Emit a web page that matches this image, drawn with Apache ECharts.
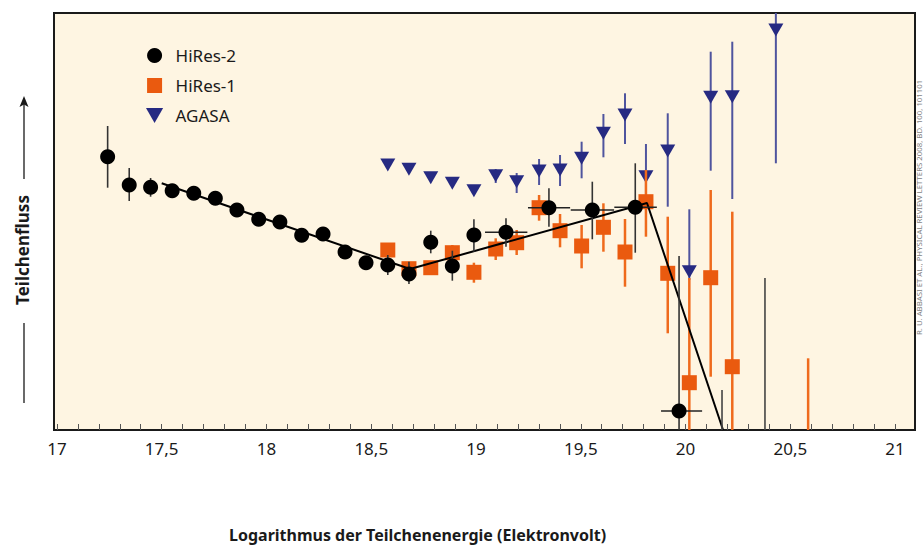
<!DOCTYPE html>
<html><head><meta charset="utf-8">
<script src="https://cdn.jsdelivr.net/npm/echarts@6/dist/echarts.min.js"></script>
<style>html,body{margin:0;padding:0;background:#fff}#c{width:923px;height:549px}</style>
</head><body><div id="c"></div>
<script>
// x: log10(E/eV); y: flux in arbitrary units (0 = bottom of plot, 417 = top)
const xTicks = [17,17.1,17.2,17.3,17.4,17.5,17.6,17.7,17.8,17.9,18,18.1,18.2,18.3,18.4,18.5,18.6,18.7,18.8,18.9,19,19.1,19.2,19.3,19.4,19.5,19.6,19.7,19.8,19.9,20,20.1,20.2,20.3,20.4,20.5,20.6,20.7,20.8,20.9,21];
const xLabels = [17,17.5,18,18.5,19,19.5,20,20.5,21];

// HiRes-2
const hires2X  = [17.242,17.345,17.447,17.550,17.653,17.756,17.859,17.963,18.064,18.168,18.270,18.375,18.475,18.579,18.680,18.784,18.887,18.990,19.143,19.348,19.555,19.760,19.969];
const hires2Y  = [273.3,245,242.7,239.3,236.7,231.7,220,210.7,208,194.7,196,178,167.3,165,156,187.7,164,195,197.7,222.3,220,222.7,19];
const hires2Lo = [242.3,229,233.3,235,233,229,217,208,205,192,193,175,164,155,146,176.7,149.3,178.3,183.3,203.3,190.7,177.3,0];
const hires2Hi = [304,262,252,243.5,240.5,234.5,223,213.5,211,197.5,199,181,170.5,175,168.3,199.3,179.3,210.7,211.7,241.7,248.3,266.7,174];
// horizontal bins (only for the high-energy points)
const hires2BinY  = [197.7,222.3,220,222.7,19];
const hires2BinLo = [19.043,19.248,19.452,19.660,19.883];
const hires2BinHi = [19.245,19.449,19.659,19.863,20.079];
// HiRes-2 upper-limit bars without markers
const hires2LimX  = [20.174,20.379];
const hires2LimLo = [0,0];
const hires2LimHi = [40,152];

// HiRes-1
const hires1X  = [18.579,18.680,18.784,18.887,18.990,19.094,19.194,19.301,19.401,19.504,19.608,19.711,19.811,19.915,20.018,20.120,20.223];
const hires1Y  = [180,161.3,162.3,177.3,157.7,181,187.3,222.3,199.3,184,202.7,178,228.3,156.7,47.3,152.3,63.3];
const hires1Lo = [175,156.5,157.5,168.3,147.3,170,175,209.3,182.7,161.7,178.3,143.3,193.3,96.7,0,53.3,0];
const hires1Hi = [185,166,167,185,167.3,191.7,200,235,216,205,226.7,211,260,213.3,152,240,218.3];
const hires1LimX  = [20.585];
const hires1LimLo = [0];
const hires1LimHi = [71.7];

// AGASA
const agasaX  = [18.579,18.680,18.784,18.887,18.990,19.094,19.194,19.301,19.401,19.504,19.608,19.711,19.811,19.915,20.018,20.120,20.223,20.431];
const agasaY  = [265,260.7,252.3,246.7,239.3,254.3,248.3,259,260,271.7,296.7,315,253.3,279,158.3,332.7,333.3,400];
const agasaLo = [262,258,249.5,244,236.5,247,237,245,244,251.7,272.7,286,223,223.3,150,259.3,231,266.7];
const agasaHi = [268,263.5,255,249.5,242,261,257,271,275,288.3,316,336.7,286,316.7,220.7,378.3,388.3,417];

// broken power-law fit through HiRes-2
const fitX = [17.50,18.685,19.816,20.179];
const fitY = [246.7,161,227,0];

const zip = (...arrs) => arrs[0].map((_, i) => arrs.map(a => a[i]));

const chart = echarts.init(document.getElementById('c'), null, {renderer: 'svg', width: 923, height: 549});

function vbar(color, width) {
  return function (params, api) {
    const p1 = api.coord([api.value(0), api.value(1)]);
    const p2 = api.coord([api.value(0), api.value(2)]);
    return {type: 'line', shape: {x1: p1[0], y1: p1[1], x2: p2[0], y2: p2[1]},
            style: {stroke: color, lineWidth: width}};
  };
}
function hbar(color, width) {
  return function (params, api) {
    const p1 = api.coord([api.value(0), api.value(2)]);
    const p2 = api.coord([api.value(1), api.value(2)]);
    return {type: 'line', shape: {x1: p1[0], y1: p1[1], x2: p2[0], y2: p2[1]},
            style: {stroke: color, lineWidth: width}};
  };
}

const FONT = 'Noto Sans';
const BLACK = '#000000', ORANGE = '#ea5a0f', NAVY = '#262a82';
const triPath = 'path://M0,0L16,0L8,14Z';
const sqPath = 'path://M0,0L10,0L10,10L0,10Z';

chart.setOption({
  animation: false,
  backgroundColor: '#ffffff',
  textStyle: {fontFamily: FONT},
  grid: {left: 54, right: 8, top: 13, bottom: 119, show: true,
         backgroundColor: '#fef5e2', borderColor: '#1a1a1a', borderWidth: 2},
  legend: {
    orient: 'vertical', left: 146, top: 47, itemWidth: 32, itemHeight: 15, itemGap: 13,
    padding: 0, selectedMode: false,
    textStyle: {fontSize: 17, color: '#1a1a1a', fontFamily: FONT},
    data: ['HiRes-2', 'HiRes-1', 'AGASA']
  },
  xAxis: {
    type: 'value', min: 16.986, max: 21.095,
    axisLine: {show: false},
    splitLine: {show: false},
    axisTick: {show: true, inside: true, length: 6, customValues: xTicks,
               lineStyle: {color: '#555', width: 1}},
    axisLabel: {show: true, customValues: xLabels, margin: 10, fontSize: 17,
                color: '#1a1a1a', fontFamily: FONT,
                formatter: v => String(v).replace('.', ',')}
  },
  yAxis: {type: 'value', min: 0, max: 417, show: false},
  graphic: [
    {type: 'text', left: 442 - 213, top: 527,
     style: {text: 'Logarithmus der Teilchenenergie (Elektronvolt)', font: 'bold 16px "Noto Sans"', fill: '#1a1a1a'}},
    {type: 'text', x: 22, y: 250, rotation: Math.PI / 2,
     style: {text: 'Teilchenfluss', font: 'bold 17px "Noto Sans"', fill: '#1a1a1a',
             align: 'center', verticalAlign: 'middle'}},
    {type: 'line', shape: {x1: 24, y1: 179, x2: 24, y2: 103}, style: {stroke: '#1a1a1a', lineWidth: 1.3}},
    {type: 'polygon', shape: {points: [[24, 96], [19.5, 107], [24, 104.5], [28.5, 107]]}, style: {fill: '#1a1a1a'}},
    {type: 'line', shape: {x1: 24, y1: 323, x2: 24, y2: 403}, style: {stroke: '#1a1a1a', lineWidth: 1.3}},
    {type: 'text', x: 918.5, y: 335, rotation: Math.PI / 2,
     style: {text: 'R. U. ABBASI ET AL., PHYSICAL REVIEW LETTERS 2008, BD. 100, 101101',
             font: '7.8px "Noto Sans"', fill: '#858585', align: 'left', verticalAlign: 'middle'}}
  ],
  series: [
    {name: 'agasaErr', type: 'custom', renderItem: vbar('#4f549e', 2), z: 2,
     encode: {x: 0, y: [1, 2]}, data: zip(agasaX, agasaLo, agasaHi)},
    {name: 'AGASA', type: 'scatter', z: 3, symbol: triPath, symbolSize: [15, 13],
     itemStyle: {color: NAVY, opacity: 1}, data: zip(agasaX, agasaY)},
    {name: 'hires1Err', type: 'custom', renderItem: vbar('#ef6a1c', 2.5), z: 4,
     encode: {x: 0, y: [1, 2]}, data: zip(hires1X, hires1Lo, hires1Hi)},
    {name: 'hires1Lim', type: 'custom', renderItem: vbar('#ef6a1c', 2.5), z: 4,
     encode: {x: 0, y: [1, 2]}, data: zip(hires1LimX, hires1LimLo, hires1LimHi)},
    {name: 'HiRes-1', type: 'scatter', z: 5, symbol: sqPath, symbolSize: 15,
     itemStyle: {color: ORANGE, opacity: 1}, data: zip(hires1X, hires1Y)},
    {name: 'fit', type: 'line', z: 6, symbol: 'none', silent: true,
     lineStyle: {color: '#000', width: 2}, data: zip(fitX, fitY)},
    {name: 'hires2Err', type: 'custom', renderItem: vbar('#333333', 1.6), z: 7,
     encode: {x: 0, y: [1, 2]}, data: zip(hires2X, hires2Lo, hires2Hi)},
    {name: 'hires2Lim', type: 'custom', renderItem: vbar('#444444', 1.6), z: 7,
     encode: {x: 0, y: [1, 2]}, data: zip(hires2LimX, hires2LimLo, hires2LimHi)},
    {name: 'hires2Bin', type: 'custom', renderItem: hbar('#222222', 1.6), z: 7,
     encode: {x: [0, 1], y: 2}, data: zip(hires2BinLo, hires2BinHi, hires2BinY)},
    {name: 'HiRes-2', type: 'scatter', z: 8, symbol: 'circle', symbolSize: 15,
     itemStyle: {color: BLACK, opacity: 1}, data: zip(hires2X, hires2Y)}
  ]
});
</script></body></html>
